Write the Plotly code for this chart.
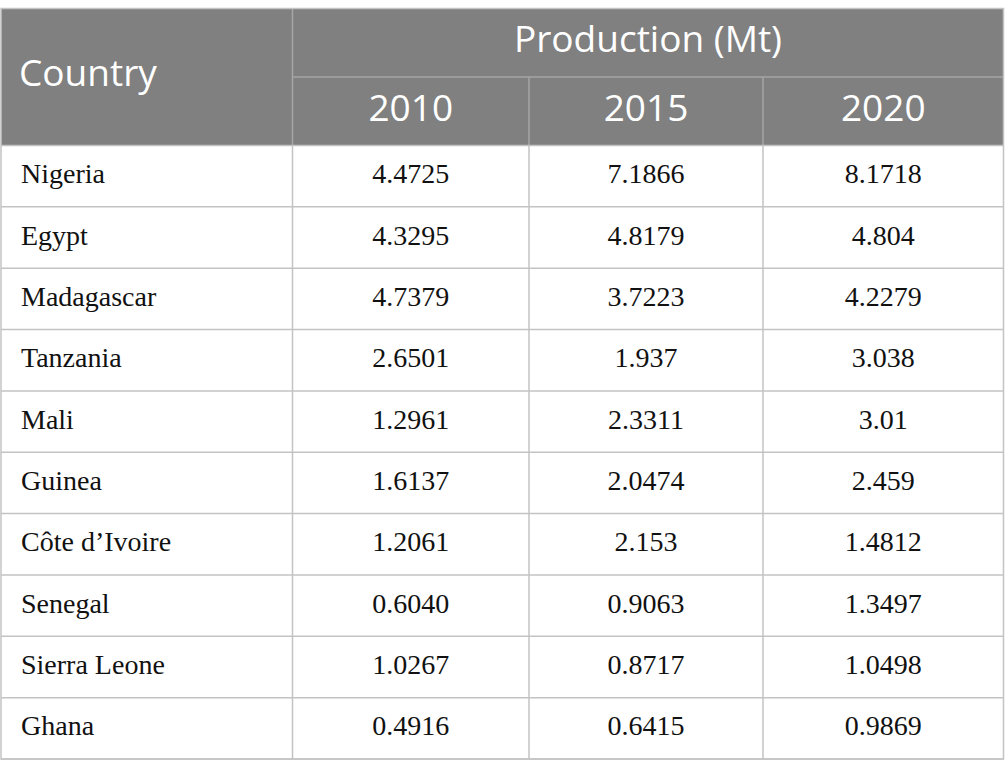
import plotly.graph_objects as go

# ---- data ----
countries = ["Nigeria", "Egypt", "Madagascar", "Tanzania", "Mali", "Guinea",
             "Côte d’Ivoire", "Senegal", "Sierra Leone", "Ghana"]
years = ["2010", "2015", "2020"]
v2010 = ["4.4725", "4.3295", "4.7379", "2.6501", "1.2961", "1.6137", "1.2061", "0.6040", "1.0267", "0.4916"]
v2015 = ["7.1866", "4.8179", "3.7223", "1.937", "2.3311", "2.0474", "2.153", "0.9063", "0.8717", "0.6415"]
v2020 = ["8.1718", "4.804", "4.2279", "3.038", "3.01", "2.459", "1.4812", "1.3497", "1.0498", "0.9869"]
header_top = "Production (Mt)"
header_first = "Country"

# ---- layout geometry (pixel-space axes) ----
W, H = 1005, 777
col_edges = [1, 292.5, 529, 763, 1003.5]
y_top, y_mid, y_head = 8.5, 77, 145.5
y_bottom = 759
n = len(countries)
row_h = (y_bottom - y_head) / n
row_edges = [y_head + i * row_h for i in range(n + 1)]

head_fill = "#808080"
grid = "#c3c3c3"
grid_head = "#a6a6a6"

shapes = []
shapes.append(dict(type="rect", x0=col_edges[0], x1=col_edges[-1], y0=y_top, y1=y_head,
                   fillcolor=head_fill, line=dict(width=0), layer="below"))
shapes.append(dict(type="line", x0=col_edges[1], x1=col_edges[-1], y0=y_mid, y1=y_mid,
                   line=dict(color=grid_head, width=1.5)))
shapes.append(dict(type="line", x0=col_edges[1], x1=col_edges[1], y0=y_top, y1=y_head,
                   line=dict(color=grid_head, width=1.5)))
for c in col_edges[2:4]:
    shapes.append(dict(type="line", x0=c, x1=c, y0=y_mid, y1=y_head,
                       line=dict(color=grid_head, width=1.5)))
shapes.append(dict(type="rect", x0=col_edges[0], x1=col_edges[-1], y0=y_top, y1=y_bottom,
                   line=dict(color=grid, width=1.5)))
for y in row_edges:
    shapes.append(dict(type="line", x0=col_edges[0], x1=col_edges[-1], y0=y, y1=y,
                       line=dict(color=grid, width=1.5)))
for c in col_edges[1:4]:
    shapes.append(dict(type="line", x0=c, x1=c, y0=y_head, y1=y_bottom,
                       line=dict(color=grid, width=1.5)))

fig = go.Figure()

row_centers = [(row_edges[i] + row_edges[i + 1]) / 2 for i in range(n)]
col_centers = [(col_edges[i] + col_edges[i + 1]) / 2 for i in range(4)]

serif = dict(family="Liberation Serif", size=28, color="#111111")
sans_w = dict(family="Open Sans", size=37, color="white")

fig.add_trace(go.Scatter(x=[21] * n, y=row_centers, text=countries, mode="text",
                         textposition="middle right", textfont=serif,
                         hoverinfo="skip", showlegend=False))
for j, vals in enumerate([v2010, v2015, v2020]):
    fig.add_trace(go.Scatter(x=[col_centers[j + 1]] * n, y=row_centers, text=vals, mode="text",
                             textposition="middle center", textfont=serif,
                             hoverinfo="skip", showlegend=False))
fig.add_trace(go.Scatter(x=[19], y=[(y_top + y_head) / 2], text=[header_first], mode="text",
                         textposition="middle right", textfont=sans_w,
                         hoverinfo="skip", showlegend=False))
fig.add_trace(go.Scatter(x=[(col_edges[1] + col_edges[-1]) / 2], y=[(y_top + y_mid) / 2],
                         text=[header_top], mode="text", textposition="middle center",
                         textfont=sans_w, hoverinfo="skip", showlegend=False))
fig.add_trace(go.Scatter(x=col_centers[1:], y=[(y_mid + y_head) / 2] * 3, text=years,
                         mode="text", textposition="middle center", textfont=sans_w,
                         hoverinfo="skip", showlegend=False))

fig.update_layout(
    width=W, height=H, margin=dict(l=0, r=0, t=0, b=0),
    paper_bgcolor="white", plot_bgcolor="white",
    xaxis=dict(range=[0, W], visible=False, fixedrange=True),
    yaxis=dict(range=[H, 0], visible=False, fixedrange=True),
    shapes=shapes,
)

fig.write_html(
    "out.html",
    config={"responsive": False, "displayModeBar": False},
    post_script="document.body.style.margin='0px';document.body.style.overflow='hidden';",
)
